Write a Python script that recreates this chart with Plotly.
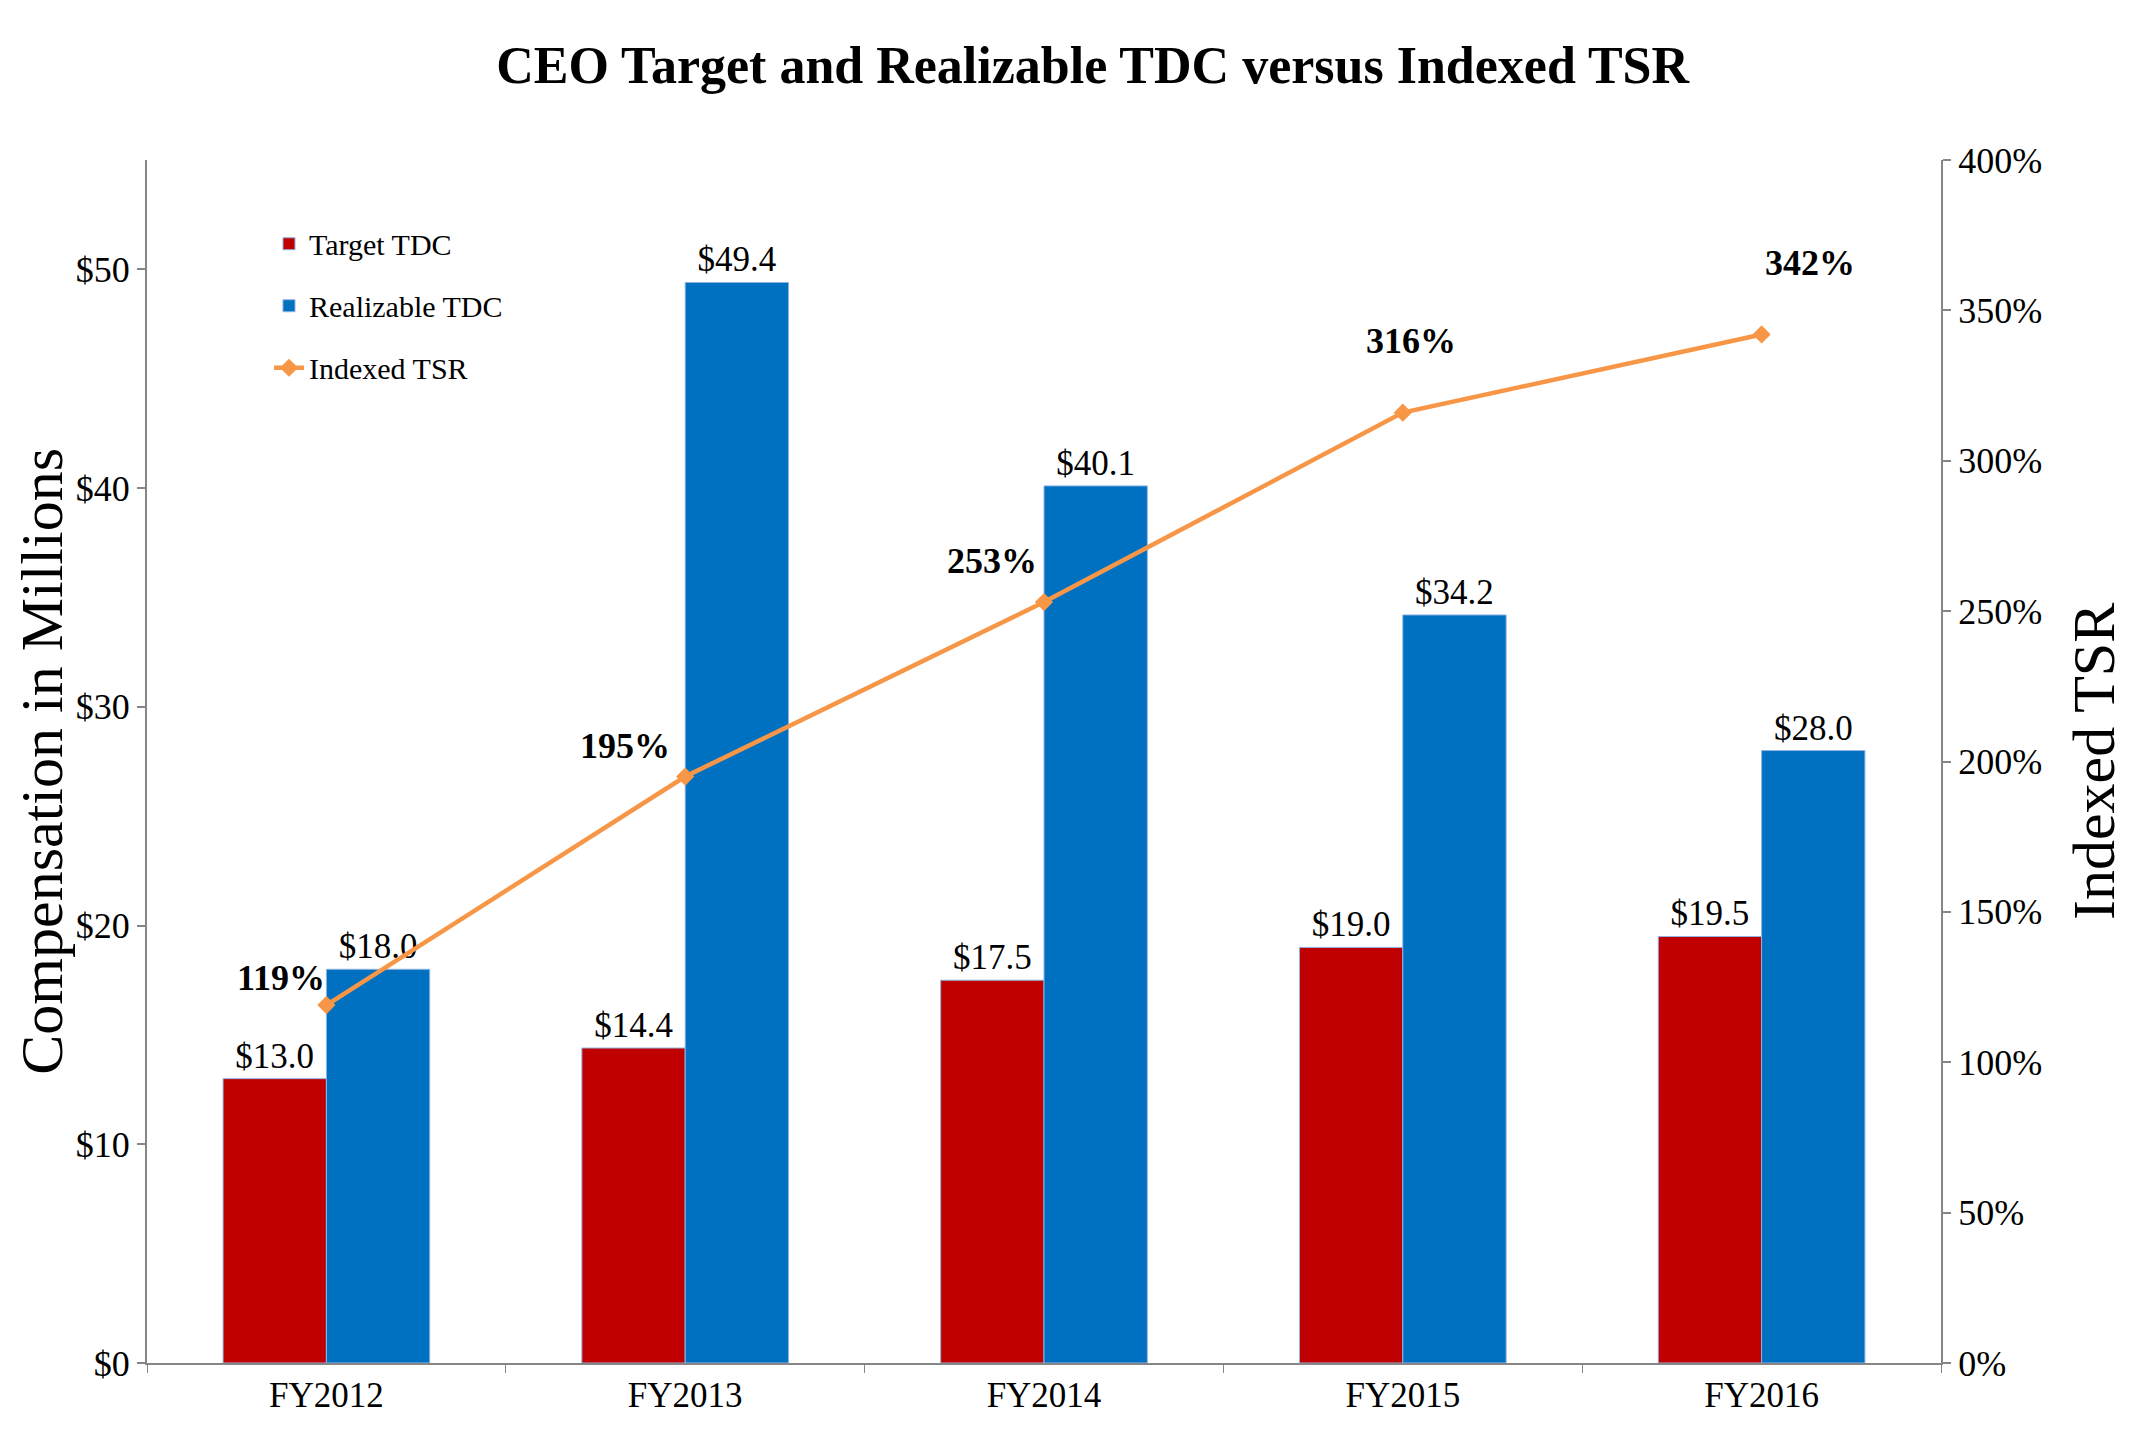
import plotly.graph_objects as go

categories = ["FY2012", "FY2013", "FY2014", "FY2015", "FY2016"]
target_tdc = [13.0, 14.4, 17.5, 19.0, 19.5]
realizable_tdc = [18.0, 49.4, 40.1, 34.2, 28.0]
indexed_tsr = [119, 195, 253, 316, 342]

FONT = "Liberation Serif"
RED = "#C00000"
BLUE = "#0070C0"
ORANGE = "#F79646"
AXIS = "#868686"

fig = go.Figure()
fig.add_trace(go.Bar(
    x=categories, y=target_tdc, name="Target TDC", legendgroup="a",
    marker=dict(color=RED, line=dict(color="#8EB4E3", width=1)),
    texttemplate="$%{y:.1f}", textposition="outside",
    textfont=dict(family=FONT, size=35, color="black"), cliponaxis=False,
))
fig.add_trace(go.Bar(
    x=categories, y=realizable_tdc, name="Realizable TDC", legendgroup="b",
    marker=dict(color=BLUE, line=dict(color="#8EB4E3", width=1)),
    texttemplate="$%{y:.1f}", textposition="outside",
    textfont=dict(family=FONT, size=35, color="black"), cliponaxis=False,
))
fig.add_trace(go.Scatter(
    x=categories, y=indexed_tsr, name="Indexed TSR", legendgroup="c",
    yaxis="y2", mode="lines+markers",
    line=dict(color=ORANGE, width=4.5),
    marker=dict(symbol="diamond", size=14, color=ORANGE),
))

# TSR data labels (offsets in pixels)
shifts = [(-45, 27), (-60, 31), (-52, 41), (8, 72), (48, 71)]
for c, v, (dx, dy) in zip(categories, indexed_tsr, shifts):
    fig.add_annotation(x=c, y=v, xref="x", yref="y2", text=f"<b>{v}%</b>",
                       showarrow=False, xshift=dx, yshift=dy,
                       font=dict(family=FONT, size=36, color="black"))

fig.add_annotation(x=-0.059, y=0.5, xref="paper", yref="paper",
                   xanchor="center", yanchor="middle",
                   text="Compensation in Millions", textangle=-90, showarrow=False,
                   font=dict(family=FONT, size=60, color="black"))
fig.add_annotation(x=1.085, y=0.5, xref="paper", yref="paper",
                   xanchor="center", yanchor="middle",
                   text="Indexed TSR", textangle=-90, showarrow=False,
                   font=dict(family=FONT, size=60, color="black"))

fig.update_layout(
    width=2131, height=1451,
    paper_bgcolor="white", plot_bgcolor="white",
    margin=dict(l=139, r=198, t=152, b=96),
    font=dict(family=FONT, color="black"),
    title=dict(text="<b>CEO Target and Realizable TDC versus Indexed TSR</b>",
               x=0.509, xanchor="center", xref="container",
               y=1 - 57 / 1451, yanchor="middle", yref="container",
               font=dict(family=FONT, size=52, color="black")),
    barmode="group", bargap=0.424, bargroupgap=0,
    showlegend=True,
    legend=dict(x=0.068, y=0.952, xanchor="left", yanchor="top",
                font=dict(family=FONT, size=30, color="black"),
                bgcolor="rgba(0,0,0,0)", tracegroupgap=20, traceorder="grouped"),
    xaxis=dict(showline=True, linecolor=AXIS, linewidth=2, ticks="outside",
               tickson="boundaries", ticklen=8, tickcolor=AXIS, tickwidth=1,
               tickfont=dict(family=FONT, size=35, color="black"),
               showgrid=False, zeroline=False),
    yaxis=dict(range=[0, 55], dtick=10, tickprefix="$", showline=True,
               linecolor=AXIS, linewidth=2, ticks="outside", ticklen=8,
               tickcolor=AXIS, tickwidth=2, showgrid=False, zeroline=False,
               tickfont=dict(family=FONT, size=36, color="black")),
    yaxis2=dict(range=[0, 400], dtick=50, ticksuffix="%", overlaying="y",
                side="right", showline=True, linecolor=AXIS, linewidth=2,
                ticks="outside", ticklen=8, tickcolor=AXIS, tickwidth=2,
                showgrid=False, zeroline=False,
                tickfont=dict(family=FONT, size=36, color="black")),
)

fig.write_html("out.html")
